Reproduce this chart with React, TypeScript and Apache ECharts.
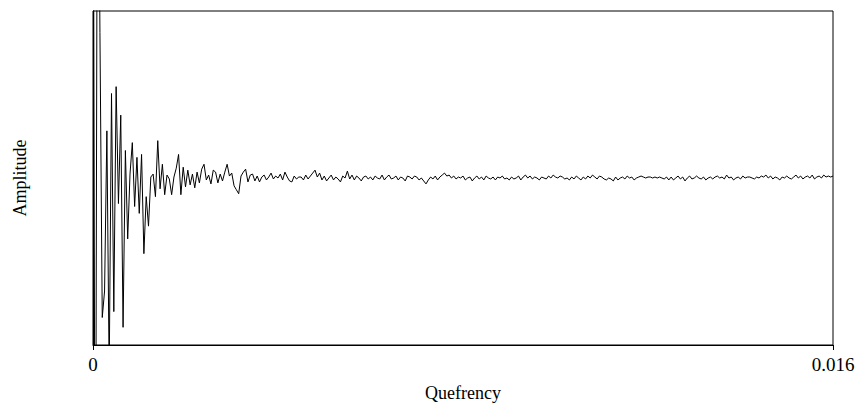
import React, { useEffect, useRef } from "react";
import * as echarts from "echarts";

// Quefrency sample step (s) and axis extent
const sampleStep = 0.00005;
const xTicks = [0, 0.016];
const yRange = [-170, 170];

// Cepstrum amplitude values (arbitrary units)
const amplitude: number[] = [
  500, -500, 500, 148, -142, -115, 48, -200, 86, -136,
  93, -26, 64, -152, 28, -62, 4, 36, -29, 21,
  -36, 24, -77, -19, -49, 1, 4, -19, 38, -11,
  14, -17, 3, -1, -17, 1, 10, 24, -17, 11,
  -9, 8, -7, 4, -10, 6, -5, 9, 14, -2,
  3, -6, 8, 6, -5, 4, -3, 6, 14, 2,
  5, -8, -12, -16, 2, 6, 9, -4, 3, 4,
  -3, 2, -4, 1, 3, -2, 1, 5, -1, 2,
  0, 4, -2, 6, 1, -3, -4, 2, -1, 1,
  1, -2, 3, -1, 2, 5, 8, 1, 5, -2,
  2, -3, 0, 3, -2, 1, -1, -4, 2, 0,
  7, -1, 3, -2, 2, 0, -3, 1, 2, -1,
  1, -2, 2, 0, -1, 3, -2, 1, 3, -1,
  0, 2, -2, 1, 0, -3, 2, 1, -1, 2,
  1, -2, 0, -3, -6, -2, 1, -1, 2, -2,
  1, 3, 5, 2, 3, 0, 2, -1, 1, 0,
  2, -2, 0, 1, -3, 0, 2, -1, 1, -2,
  2, 0, -1, 1, -2, 1, 0, 2, -1, 0,
  -2, 1, -1, 0, 2, -2, 1, 3, 0, 2,
  -1, 1, 0, -2, 1, 0, -1, 2, 0, 3,
  1, 0, 2, 1, -1, 0, -2, 1, -1, 2,
  0, -2, 1, -1, 2, 0, 3, 1, -1, 2,
  1, -1, -2, 0, -1, -3, 1, -2, 0, 1,
  -1, 2, 0, 1, -2, 0, 1, 2, 1, 0,
  1, 1, 0, 1, 0, 1, 0, -1, 1, -2,
  1, -2, 0, 2, -1, 1, -3, 0, 2, -1,
  0, 2, 0, -1, 1, -2, 0, 1, -1, 1,
  2, 0, 1, -1, 3, 0, 1, -2, 0, 1,
  -1, 2, 0, 1, 1, 0, -1, 1, 0, 2,
  1, 3, 0, 2, -1, 1, 0, -2, 1, 0,
  2, 0, -1, 1, 3, 0, 2, -1, 1, 2,
  0, 3, -1, 1, 2, 0, 3, 1, 2, 1,
  2,
];

const FONT = "Liberation Serif";

export default function App() {
  const ref = useRef<HTMLDivElement>(null);

  useEffect(() => {
    document.body.style.margin = "0";
    if (!ref.current) return;
    const chart = echarts.init(ref.current, undefined, { renderer: "svg" });
    const data = amplitude.map((v, i) => [i * sampleStep, v]);
    chart.setOption({
      animation: false,
      backgroundColor: "#fff",
      grid: {
        left: 93,
        right: 26,
        top: 11,
        bottom: 56,
        show: true,
        borderColor: "#000",
        borderWidth: 1,
        backgroundColor: "transparent",
      },
      xAxis: {
        type: "value",
        min: xTicks[0],
        max: xTicks[xTicks.length - 1],
        interval: xTicks[1] - xTicks[0],
        name: "Quefrency",
        nameLocation: "middle",
        nameGap: 39,
        nameTextStyle: { fontFamily: FONT, fontSize: 18, color: "#000" },
        axisLine: { show: true, onZero: false, lineStyle: { color: "#000", width: 1 } },
        axisTick: { show: true, length: 5, lineStyle: { color: "#000" } },
        axisLabel: {
          margin: 10,
          fontFamily: FONT,
          fontSize: 19,
          color: "#000",
          formatter: (v: number) => String(v),
        },
        splitLine: { show: false },
      },
      yAxis: {
        type: "value",
        min: yRange[0],
        max: yRange[1],
        name: "Amplitude",
        nameLocation: "middle",
        nameGap: 64,
        nameTextStyle: { fontFamily: FONT, fontSize: 18, color: "#000" },
        axisLine: { show: true, lineStyle: { color: "#000" } },
        axisTick: { show: false },
        axisLabel: { show: false },
        splitLine: { show: false },
      },
      series: [
        {
          type: "line",
          data,
          showSymbol: false,
          symbol: "none",
          clip: true,
          lineStyle: { color: "#000", width: 1 },
        },
      ],
    });
    return () => chart.dispose();
  }, []);

  return <div ref={ref} style={{ width: 859, height: 407 }} />;
}
